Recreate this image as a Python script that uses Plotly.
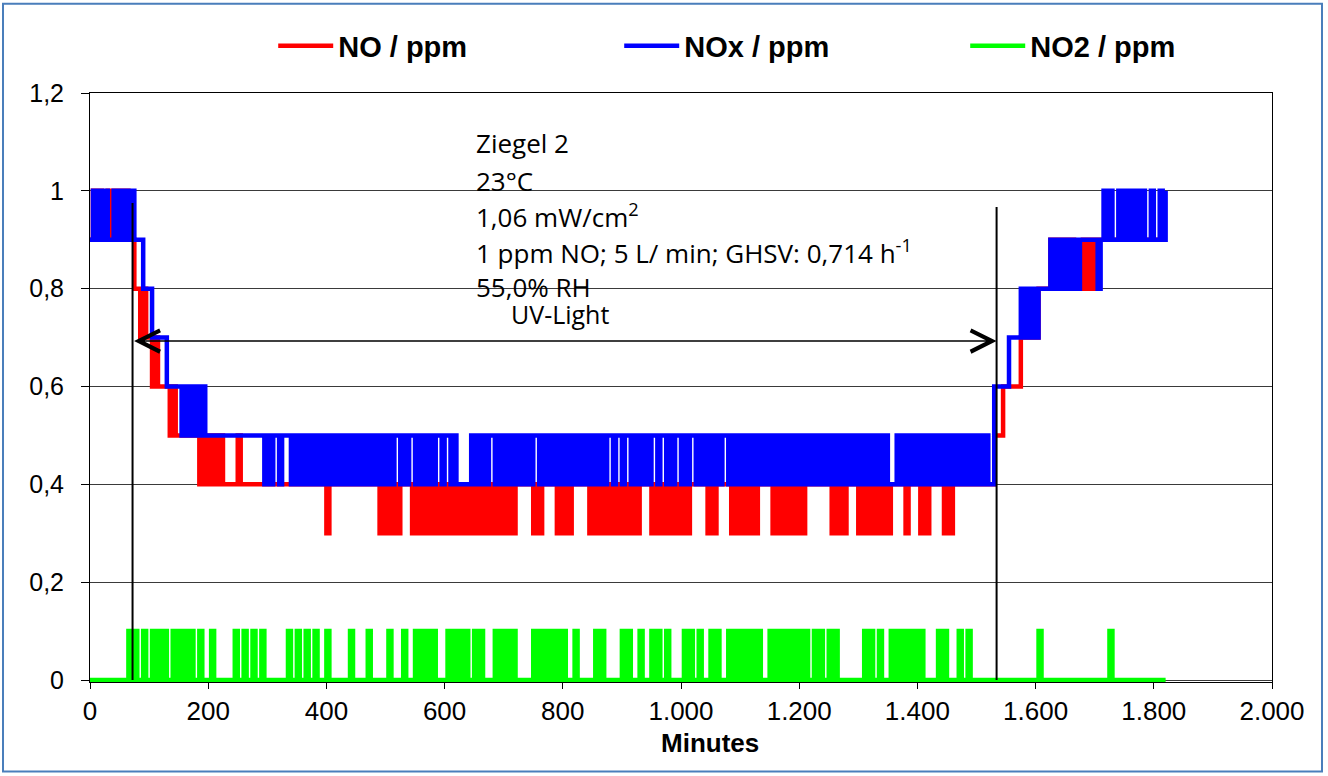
import plotly.graph_objects as go

# ---------------- data ----------------
# Each string covers 100 minutes: 20 samples, one every 5 minutes (groups of 5 separated by spaces).
# Digit = value in tenths of ppm, "A" = 1.0 ppm.
STEP_MIN = 5
CHUNK_MIN = 100

NO_CHUNKS = [
    "9A9A9 9A9A9 A9A99 88787",
    "76766 66565 55555 55454",
    "54545 44444 54444 44444",
    "44444 44444 44444 44444",
    "34444 44444 44444 44434",
    "34343 44443 43434 34343",
    "43434 34343 43434 34343",
    "43434 44444 34344 44434",
    "34344 44443 43434 34343",
    "43434 34444 34343 43434",
    "34344 44443 43444 44343",
    "43434 34444 43434 34343",
    "43444 44444 43434 34444",
    "34343 43434 34444 43444",
    "43434 44443 43444 44444",
    "44444 45556 66666 77777",
    "78888 98989 89988 89898",
    "99999 99999 99999 99999",
    "99999",
]

NOX_CHUNKS = [
    "9A9A9 A99A9 A9A9A 99988",
    "87777 76666 65656 56565",
    "55555 55555 55555 55554",
    "54554 55545 45454 54545",
    "45454 54545 45454 54545",
    "45455 45455 45454 54554",
    "55454 44445 45454 55454",
    "54545 45454 55454 54545",
    "45454 54545 45454 55455",
    "45545 45454 55455 45455",
    "45455 45454 54545 54545",
    "45454 54545 45454 54545",
    "45454 54545 45454 54545",
    "45454 54545 44454 54545",
    "45454 54545 45454 54545",
    "45454 46666 67777 87878",
    "78888 98989 89898 99999",
    "989A9 A99A9 A9A9A 9A99A",
    "99A9A",
]

NO2_CHUNKS = [
    "00000 00000 00010 10010",
    "01010 10010 10101 00100",
    "01000 00001 00100 10010",
    "00000 00100 10010 01000",
    "10000 00010 00001 00000",
    "01000 01000 10101 01000",
    "01010 10100 10100 00101",
    "01010 00000 10101 01010",
    "10001 00000 01010 00000",
    "10100 01000 10100 10000",
    "01010 01000 10100 01010",
    "10101 01000 10101 01010",
    "10100 10100 10100 00000",
    "00101 00100 01010 10101",
    "01000 00101 00001 00100",
    "00000 00000 00000 00000",
    "01000 00000 00000 00000",
    "00000 10000 00000 00000",
    "00000",
]

SERIES_NAMES = ["NO / ppm", "NOx / ppm", "NO2 / ppm"]
SERIES_COLORS = ["#FF0000", "#0000FF", "#00FF00"]

X_TICKS = [0, 200, 400, 600, 800, 1000, 1200, 1400, 1600, 1800, 2000]
X_TICK_LABELS = ["0", "200", "400", "600", "800", "1.000", "1.200", "1.400", "1.600", "1.800", "2.000"]
Y_TICKS = [0, 0.2, 0.4, 0.6, 0.8, 1.0, 1.2]
Y_TICK_LABELS = ["0", "0,2", "0,4", "0,6", "0,8", "1", "1,2"]

UV_ON_MIN = 72
UV_OFF_MIN = 1534
UV_ON_TOP = 0.975
UV_OFF_TOP = 0.967
UV_ARROW_Y = 0.693

INFO_LINES = ["Ziegel 2", "23°C", "1,06 mW/cm<sup>2</sup>",
              "1 ppm NO; 5 L/ min; GHSV: 0,714 h<sup>-1</sup>", "55,0% RH"]
INFO_Y = [1.098, 1.020, 0.949, 0.875, 0.803]
INFO_X = 650
UV_LABEL = "UV-Light"
UV_LABEL_X = 709
UV_LABEL_Y = 0.748


def decode(chunks):
    t, v = [], []
    for k, chunk in enumerate(chunks):
        s = chunk.replace(" ", "")
        for j, ch in enumerate(s):
            t.append(CHUNK_MIN * k + STEP_MIN * j)
            v.append(1.0 if ch == "A" else int(ch) / 10.0)
    return t, v


fig = go.Figure()
for chunks, name, color in zip([NO_CHUNKS, NOX_CHUNKS, NO2_CHUNKS], SERIES_NAMES, SERIES_COLORS):
    t, v = decode(chunks)
    fig.add_trace(go.Scatter(x=t, y=v, mode="lines", name=name,
                             line=dict(color=color, width=4.5, shape="hv")))

# UV on/off lines and arrow
fig.add_shape(type="line", xref="x", yref="y", x0=UV_ON_MIN, x1=UV_ON_MIN, y0=0, y1=UV_ON_TOP,
              line=dict(color="black", width=2), layer="above")
fig.add_shape(type="line", xref="x", yref="y", x0=UV_OFF_MIN, x1=UV_OFF_MIN, y0=0, y1=UV_OFF_TOP,
              line=dict(color="black", width=2), layer="above")
fig.add_annotation(x=UV_OFF_MIN, y=UV_ARROW_Y, ax=UV_ON_MIN, ay=UV_ARROW_Y,
                   xref="x", yref="y", axref="x", ayref="y", text="",
                   showarrow=True, arrowhead=5, startarrowhead=5, arrowside="end+start",
                   arrowwidth=1.5, arrowsize=2.8, startarrowsize=2.8, arrowcolor="black")

for txt, yy in zip(INFO_LINES, INFO_Y):
    fig.add_annotation(x=INFO_X, y=yy, xref="x", yref="y", text=txt, showarrow=False,
                       xanchor="left", yanchor="middle",
                       font=dict(family="Open Sans", size=26, color="black"))
fig.add_annotation(x=UV_LABEL_X, y=UV_LABEL_Y, xref="x", yref="y", text=UV_LABEL, showarrow=False,
                   xanchor="left", yanchor="middle",
                   font=dict(family="Open Sans", size=25, color="black"))

# axis title
fig.add_annotation(x=0.5245, y=-0.104, xref="paper", yref="paper", text="<b>Minutes</b>",
                   showarrow=False, xanchor="center", yanchor="middle",
                   font=dict(family="Liberation Sans", size=26, color="black"))

# outer frame
fig.add_shape(type="rect", xref="paper", yref="paper", x0=-0.0736, x1=1.0423, y0=-0.152, y1=1.1516,
              line=dict(color="#4A7EBB", width=2), fillcolor="rgba(0,0,0,0)", layer="below")

fig.update_xaxes(range=[0, 2000], tickvals=X_TICKS, ticktext=X_TICK_LABELS,
                 showline=True, linecolor="black", linewidth=1, mirror=True,
                 ticks="outside", ticklen=6, tickcolor="black", showgrid=False, zeroline=False,
                 tickfont=dict(family="Liberation Sans", size=26, color="black"),
                 layer="below traces", automargin=False)
fig.update_yaxes(range=[-0.004, 1.2], tickvals=Y_TICKS, ticktext=Y_TICK_LABELS,
                 showline=True, linecolor="black", linewidth=1, mirror=True,
                 ticks="outside", ticklen=8, tickcolor="black",
                 showgrid=True, gridcolor="#3a3a3a", gridwidth=1, zeroline=False,
                 tickfont=dict(family="Liberation Sans", size=25, color="black"),
                 ticklabelstandoff=12, layer="below traces", automargin=False)

fig.update_layout(
    width=1328, height=776,
    margin=dict(l=90, r=56, t=93, b=94, autoexpand=False),
    paper_bgcolor="white", plot_bgcolor="white",
    showlegend=True,
    legend=dict(orientation="h", x=0.155, y=1.08, xanchor="left", yanchor="middle",
                font=dict(family="Liberation Sans", size=29, color="black", weight="bold"),
                itemwidth=55, entrywidth=276, entrywidthmode="pixels",
                bgcolor="rgba(0,0,0,0)", borderwidth=0),
)

fig.write_html("out.html", config={"displayModeBar": False},
               post_script="document.body.style.margin='0';document.body.style.padding='0';")
